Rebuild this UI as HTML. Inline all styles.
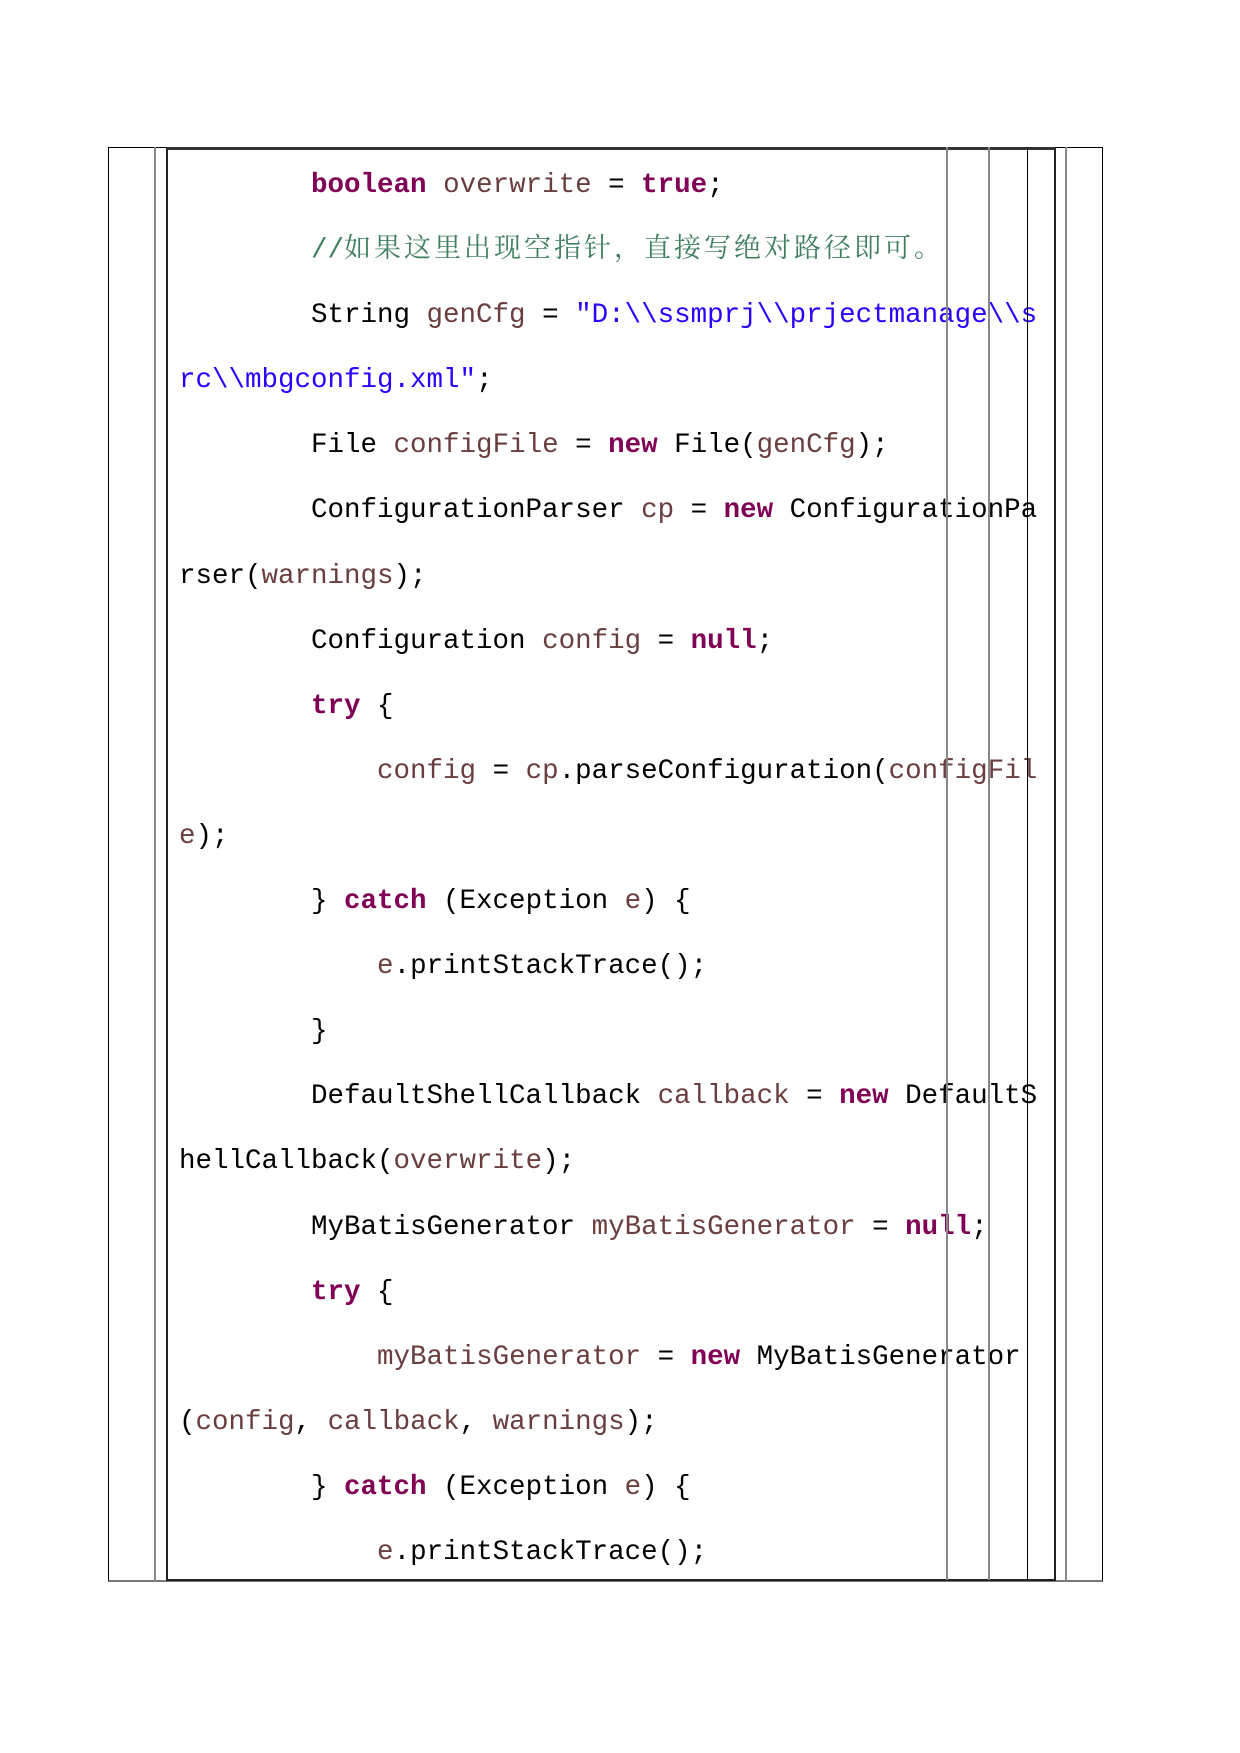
<!DOCTYPE html>
<html><head><meta charset="utf-8"><style>
html,body{margin:0;padding:0;background:#fff;width:1240px;height:1753px;overflow:hidden;position:relative}
.v{position:absolute;width:0;}
.code{position:absolute;left:179px;top:153px;font-family:"Liberation Mono","Noto Sans CJK SC",monospace;font-size:27.5px;line-height:65.1px;white-space:pre;color:#000}
.code>div{height:65.1px;overflow:visible}
.k{color:#7f0055;font-weight:bold}
.n{color:#6a3e3e}
.s{color:#2a00ff}
.c{color:#3f7f5f;position:relative;top:0px}
.cj{font-family:"Noto Serif CJK SC",serif;font-size:27px;letter-spacing:3px;line-height:1}
</style></head><body>
<div class="code"><div>        <span class="k">boolean</span> <span class="n">overwrite</span> = <span class="k">true</span>;</div><div>        <span class="c">//<span class="cj">如果这里出现空指针，直接写绝对路径即可。</span></span></div><div>        String <span class="n">genCfg</span> = <span class="s">"D:\\ssmprj\\prjectmanage\\s</span></div><div><span class="s">rc\\mbgconfig.xml"</span>;</div><div>        File <span class="n">configFile</span> = <span class="k">new</span> File(<span class="n">genCfg</span>);</div><div>        ConfigurationParser <span class="n">cp</span> = <span class="k">new</span> ConfigurationPa</div><div>rser(<span class="n">warnings</span>);</div><div>        Configuration <span class="n">config</span> = <span class="k">null</span>;</div><div>        <span class="k">try</span> {</div><div>            <span class="n">config</span> = <span class="n">cp</span>.parseConfiguration(<span class="n">configFil</span></div><div><span class="n">e</span>);</div><div>        } <span class="k">catch</span> (Exception <span class="n">e</span>) {</div><div>            <span class="n">e</span>.printStackTrace();</div><div>        }</div><div>        DefaultShellCallback <span class="n">callback</span> = <span class="k">new</span> DefaultS</div><div>hellCallback(<span class="n">overwrite</span>);</div><div>        MyBatisGenerator <span class="n">myBatisGenerator</span> = <span class="k">null</span>;</div><div>        <span class="k">try</span> {</div><div>            <span class="n">myBatisGenerator</span> = <span class="k">new</span> MyBatisGenerator</div><div>(<span class="n">config</span>, <span class="n">callback</span>, <span class="n">warnings</span>);</div><div>        } <span class="k">catch</span> (Exception <span class="n">e</span>) {</div><div>            <span class="n">e</span>.printStackTrace();</div></div>
<div style="position:absolute;left:108px;top:147px;width:995px;height:1435px;border:1px solid #000;box-sizing:border-box;border-bottom:2px solid #777"></div>
<div style="position:absolute;left:166px;top:147px;width:890px;height:1434px;box-sizing:border-box;border:2px solid #222;border-top:3px solid #333"></div>
<div class="v" style="left:154px;top:147px;height:1435px;border-left:2px solid #888"></div>
<div class="v" style="left:946px;top:147px;height:1433px;border-left:2px solid #888"></div>
<div class="v" style="left:988px;top:147px;height:1433px;border-left:2px solid #888"></div>
<div class="v" style="left:1027px;top:147px;height:1433px;border-left:1px solid #000"></div>
<div class="v" style="left:1065px;top:147px;height:1435px;border-left:2px solid #888"></div>
</body></html>
